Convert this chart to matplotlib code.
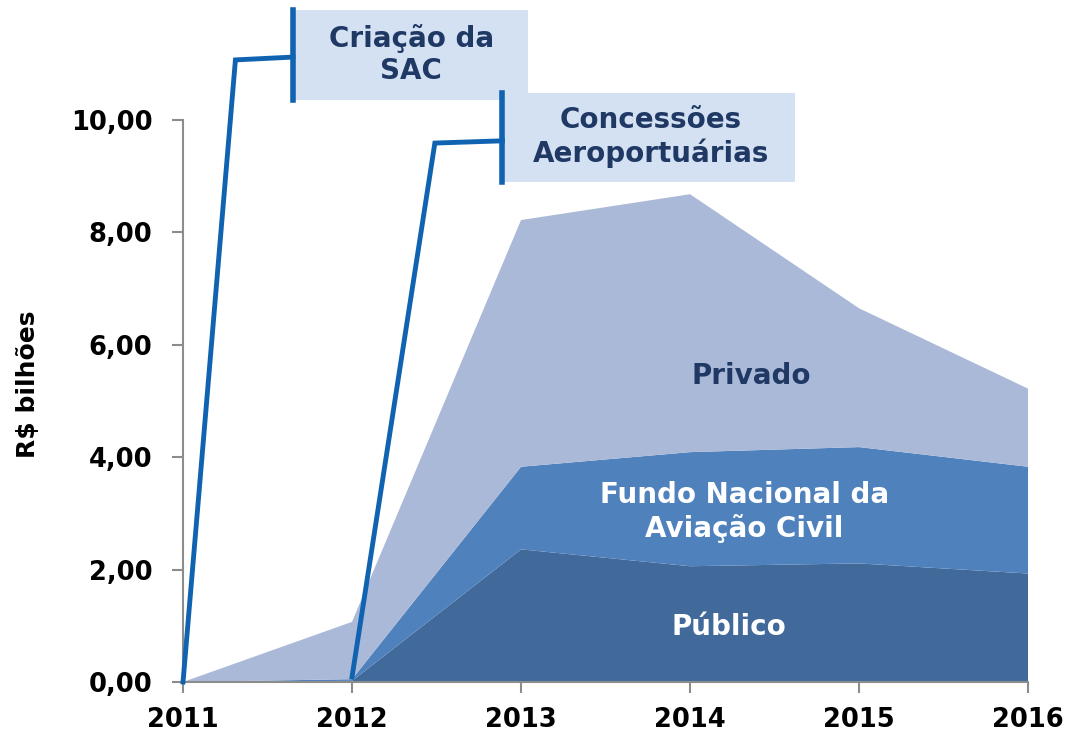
import matplotlib
matplotlib.use('Agg')
import matplotlib.pyplot as plt
from matplotlib.patches import Rectangle

anos = [2011, 2012, 2013, 2014, 2015, 2016]
publico = [0.0, 0.02, 2.36, 2.06, 2.11, 1.93]
fnac = [0.0, 0.03, 1.47, 2.03, 2.07, 1.90]
privado = [0.0, 1.02, 4.39, 4.59, 2.47, 1.39]

y_ticks = [0, 2, 4, 6, 8, 10]
y_labels = ['0,00', '2,00', '4,00', '6,00', '8,00', '10,00']

cor_pub = '#416a9b'
cor_fnac = '#4f81bd'
cor_priv = '#aab9d7'
cor_linha = '#1063b0'
cor_caixa = '#d3e1f3'
cor_texto = '#1f3864'

plt.rcParams['font.family'] = 'DejaVu Sans'
plt.rcParams['font.weight'] = 'bold'

fig = plt.figure(figsize=(10.66, 7.4), dpi=100)
ax = fig.add_axes([0.1717, 0.0784, 0.7927, 0.7594])

ax.stackplot(anos, publico, fnac, privado, colors=[cor_pub, cor_fnac, cor_priv],
             linewidth=0)
ax.set_xlim(2011, 2016)
ax.set_ylim(0, 10)

ax.set_yticks(y_ticks)
ax.set_yticklabels(y_labels, fontsize=18.5, fontweight='bold')
ax.set_xticks(anos)
ax.set_xticklabels([str(a) for a in anos], fontsize=18.5, fontweight='bold')
ax.tick_params(axis='y', length=8, width=1.5, color='#8c8c8c', pad=14)
ax.tick_params(axis='x', length=8, width=1.5, color='#8c8c8c', pad=10)
for s in ['top', 'right']:
    ax.spines[s].set_visible(False)
for s in ['left', 'bottom']:
    ax.spines[s].set_color('#8c8c8c')
    ax.spines[s].set_linewidth(1.5)
ax.set_ylabel('R$ bilhões', fontsize=18, fontweight='bold', labelpad=22, y=0.53)

# rótulos das áreas
ax.text(2014.36, 5.45, 'Privado', ha='center', va='center', fontsize=20,
        fontweight='bold', color=cor_texto)
ax.text(2014.32, 3.02, 'Fundo Nacional da\nAviação Civil', ha='center', va='center',
        fontsize=20, fontweight='bold', color='white', linespacing=1.2)
ax.text(2014.23, 0.98, 'Público', ha='center', va='center', fontsize=20,
        fontweight='bold', color='white')

# anotações
ax.add_patch(Rectangle((2011.65, 10.36), 1.39, 1.60, facecolor=cor_caixa,
                       edgecolor='none', clip_on=False, zorder=3))
ax.plot([2011, 2011.31, 2011.65], [0, 11.07, 11.12], color=cor_linha, lw=3.5,
        clip_on=False, zorder=4, solid_joinstyle='miter')
ax.plot([2011.65, 2011.65], [10.36, 11.96], color=cor_linha, lw=4,
        clip_on=False, zorder=4)
ax.text(2012.35, 11.17, 'Criação da\nSAC', ha='center', va='center', fontsize=20,
        fontweight='bold', color=cor_texto, linespacing=1.2, zorder=5)

ax.add_patch(Rectangle((2012.89, 8.90), 1.73, 1.58, facecolor=cor_caixa,
                       edgecolor='none', clip_on=False, zorder=3))
ax.plot([2012.0, 2012.49, 2012.89], [0.09, 9.59, 9.63], color=cor_linha, lw=3.5,
        clip_on=False, zorder=4, solid_joinstyle='miter')
ax.plot([2012.89, 2012.89], [8.90, 10.48], color=cor_linha, lw=4,
        clip_on=False, zorder=4)
ax.text(2013.77, 9.70, 'Concessões\nAeroportuárias', ha='center', va='center',
        fontsize=20, fontweight='bold', color=cor_texto, linespacing=1.2, zorder=5)

fig.savefig('out.png', dpi=100)
